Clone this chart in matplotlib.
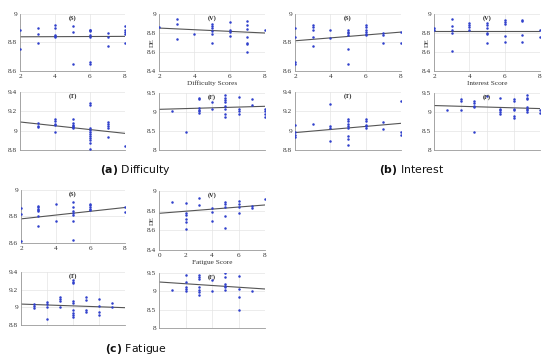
import matplotlib
matplotlib.use("Agg")
import matplotlib.pyplot as plt

# --- data: scores on x, DE values on y (grouped by score) ---
# (a) Difficulty
diff_s_x = [2, 3, 4, 5, 6, 7, 8]
diff_s_y = [[8.887, 8.755], [8.899, 8.859, 8.793], [8.925, 8.90, 8.854, 8.845, 8.84],
            [8.918, 8.873, 8.652], [8.89, 8.885, 8.878, 8.852, 8.84, 8.664, 8.652],
            [8.87, 8.838, 8.774], [8.918, 8.887, 8.873, 8.86, 8.793]]
diff_s_fit = [8.84, 8.843]

diff_v_x = [2, 3, 4, 5, 6, 7, 8]
diff_v_y = [[8.866], [8.944, 8.894, 8.742], [8.788], [8.89, 8.873, 8.852, 8.824, 8.788, 8.70],
            [8.912, 8.83, 8.813, 8.77], [8.93, 8.884, 8.84, 8.76, 8.696, 8.68, 8.60], [8.83]]
diff_v_fit = [8.852, 8.80]

diff_t_x = [3, 4, 5, 6, 7, 8]
diff_t_y = [[9.076, 9.052, 9.034], [9.12, 9.097, 9.072, 9.055, 8.986],
            [9.12, 9.083, 9.062, 9.052, 9.034, 9.024],
            [9.286, 9.262, 9.028, 9.01, 8.986, 8.966, 8.941, 8.924, 8.90, 8.876, 8.814],
            [9.093, 9.069, 9.045, 9.028, 8.938], [8.84]]
diff_t_fit = [9.09, 8.972]

diff_f_x = [1, 2, 3, 4, 5, 6, 7, 8]
diff_f_y = [[9.017], [8.48], [9.37, 9.33, 9.10, 9.06, 9.02, 8.98], [9.26, 9.09],
            [9.44, 9.37, 9.31, 9.27, 9.16, 9.09, 8.96, 8.87], [9.40, 9.09, 9.02, 8.96],
            [9.35, 9.19], [9.09, 9.02, 8.96, 8.87]]
diff_f_fit = [9.07, 9.15]

# (b) Interest
int_s_x = [2, 3, 4, 5, 6, 7, 8]
int_s_y = [[8.901, 8.84, 8.661, 8.652], [8.92, 8.906, 8.887, 8.84, 8.776], [8.887, 8.83],
           [8.887, 8.875, 8.864, 8.852, 8.755, 8.652], [8.922, 8.906, 8.887, 8.873, 8.859, 8.85],
           [8.87, 8.85, 8.793], [8.873, 8.798]]
int_s_fit = [8.812, 8.873]

int_v_x = [2, 3, 4, 5, 6, 7, 8]
int_v_y = [[8.854, 8.836], [8.95, 8.87, 8.836, 8.80, 8.61], [8.907, 8.886, 8.86, 8.836],
           [8.907, 8.886, 8.857, 8.80, 8.786, 8.693], [8.936, 8.914, 8.893, 8.771, 8.707],
           [8.936, 8.925, 8.782, 8.707], [8.836, 8.754]]
int_v_fit = [8.82, 8.82]

int_t_x = [2, 3, 4, 5, 6, 7, 8]
int_t_y = [[9.062, 8.986, 8.959, 8.934], [9.069], [9.276, 9.045, 9.028, 8.89],
           [9.124, 9.097, 9.069, 9.045, 9.028, 8.948, 8.914, 8.848],
           [9.124, 9.097, 9.062, 9.045, 9.028], [9.086, 9.021], [9.303, 8.986, 8.952]]
int_t_fit = [8.98, 9.076]

int_f_x = [1, 2, 3, 4, 5, 6, 7, 8]
int_f_y = [[9.04], [9.35, 9.30, 9.06], [9.28, 9.23, 9.17, 9.12, 8.48], [9.41],
           [9.36, 9.09, 9.04, 9.00, 8.96], [9.35, 9.28, 9.09, 9.04, 8.90, 8.84],
           [9.45, 9.36, 9.33, 9.13, 9.09, 9.04, 9.00], [9.06, 8.98]]
int_f_fit = [9.17, 9.09]

# (c) Fatigue
fat_s_x = [2, 3, 4, 5, 6, 8]
fat_s_y = [[8.862, 8.818, 8.612], [8.878, 8.868, 8.858, 8.848, 8.838, 8.80, 8.728],
           [8.898, 8.768], [8.908, 8.868, 8.845, 8.825, 8.812, 8.768, 8.625],
           [8.898, 8.888, 8.872, 8.86, 8.848], [8.868, 8.832]]
fat_s_fit = [8.782, 8.868]

fat_v_x = [1, 2, 3, 4, 5, 6, 7, 8]
fat_v_y = [[8.892], [8.875, 8.773, 8.756, 8.712, 8.688, 8.61], [8.932, 8.858],
           [8.83, 8.79, 8.70], [8.885, 8.868, 8.84, 8.746, 8.62], [8.90, 8.868, 8.837, 8.773],
           [8.844, 8.824], [8.915]]
fat_v_fit = [8.773, 8.858]

fat_t_x = [1, 2, 3, 4, 5, 6, 7]
fat_t_y = [[9.037, 9.015, 8.996], [9.06, 9.034, 9.007, 8.873], [9.12, 9.097, 9.067, 9.007],
           [9.307, 9.288, 9.27, 9.067, 9.045, 8.97, 8.94, 8.914, 8.888],
           [9.12, 9.082, 8.97, 8.948], [9.09, 9.015, 8.951, 8.914], [9.052, 9.007]]
fat_t_fit = [9.037, 8.996]

fat_f_x = [1, 2, 3, 4, 5, 6, 7]
fat_f_y = [[9.045], [9.455, 9.245, 9.11, 9.064, 9.018],
           [9.445, 9.382, 9.336, 9.11, 9.045, 8.973, 8.909], [9.31, 9.018],
           [9.49, 9.40, 9.20, 9.155, 9.11, 9.045], [9.41, 9.064, 8.855, 8.48], [9.018]]
fat_f_fit = [9.255, 9.064]

W, H = 550, 361
plt.rcParams['mathtext.fontset'] = 'custom'
plt.rcParams['mathtext.bf'] = 'DejaVu Sans:bold'
plt.rcParams['mathtext.rm'] = 'DejaVu Sans'
serif = 'Liberation Serif'

fig = plt.figure(figsize=(W / 100, H / 100), dpi=100)

y_s = ([8.6, 8.8, 9], ['8.6', '8.8', '9'])
y_v = ([8.4, 8.6, 8.8, 9], ['8.4', '8.6', '8.8', '9'])
y_t = ([8.8, 9, 9.2, 9.4], ['8.8', '9', '9.2', '9.4'])
y_f = ([8, 8.5, 9, 9.5], ['8', '8.5', '9', '9.5'])


def panel(box, xs, ys, fit, xlim, ylim, yt, title, show_x=True, xlabel=None, ylabel=None):
    l, t, r, b = box
    ax = fig.add_axes([l / W, 1 - b / H, (r - l) / W, (b - t) / H])
    for x, vals in zip(xs, ys):
        ax.plot([x] * len(vals), vals, 'o', ms=1.8, color='#3040cc', mec='none', zorder=3)
    ax.plot(xlim, fit, color='#555555', lw=0.8, zorder=2)
    ax.set_xlim(xlim)
    ax.set_ylim(ylim)
    xt = list(range(xlim[0], xlim[1] + 1, 2))
    ax.set_xticks(xt)
    ax.set_xticklabels([str(v) for v in xt] if show_x else [])
    ax.set_yticks(yt[0])
    ax.set_yticklabels(yt[1])
    ax.tick_params(length=0, pad=2, labelsize=5.2, labelcolor='#333333')
    for lab in ax.get_xticklabels() + ax.get_yticklabels():
        lab.set_fontfamily(serif)
    ax.grid(True, color='#e4e4e4', lw=0.5)
    ax.set_axisbelow(True)
    for s in ['top', 'right']:
        ax.spines[s].set_visible(False)
    for s in ['left', 'bottom']:
        ax.spines[s].set_color('#999999')
        ax.spines[s].set_linewidth(0.6)
    ax.text(0.5, 0.98, title, transform=ax.transAxes, ha='center', va='top',
            fontsize=4.5, fontweight='bold', family=serif, color='#222222')
    if xlabel:
        ax.set_xlabel(xlabel, fontsize=5.2, family=serif, labelpad=1.5, color='#333333')
    if ylabel:
        ax.set_ylabel(ylabel, fontsize=4.8, family=serif, color='#333333')
        ax.yaxis.set_label_coords(-0.035, 0.5)
    return ax


# (a) Difficulty
panel((20, 14, 125, 71), diff_s_x, diff_s_y, diff_s_fit, (2, 8), (8.6, 9), y_s, '(S)')
panel((159, 14, 265, 71), diff_v_x, diff_v_y, diff_v_fit, (2, 8), (8.4, 9), y_v, '(V)',
      xlabel='Difficulty Scores', ylabel='DE')
panel((20, 92, 125, 150), diff_t_x, diff_t_y, diff_t_fit, (2, 8), (8.8, 9.4), y_t, '(T)', show_x=False)
panel((159, 93, 265, 150), diff_f_x, diff_f_y, diff_f_fit, (0, 8), (8, 9.5), y_f, '(F)', show_x=False)

# (b) Interest
panel((295, 14, 401, 71), int_s_x, int_s_y, int_s_fit, (2, 8), (8.6, 9), y_s, '(S)')
panel((434, 14, 540, 71), int_v_x, int_v_y, int_v_fit, (2, 8), (8.4, 9), y_v, '(V)',
      xlabel='Interest Score', ylabel='DE')
panel((295, 92, 401, 150), int_t_x, int_t_y, int_t_fit, (2, 8), (8.8, 9.4), y_t, '(T)', show_x=False)
panel((434, 93, 540, 150), int_f_x, int_f_y, int_f_fit, (0, 8), (8, 9.5), y_f, '(F)', show_x=False)

# (c) Fatigue
panel((21, 190, 125, 243), fat_s_x, fat_s_y, fat_s_fit, (2, 8), (8.6, 9), y_s, '(S)')
panel((159, 191, 265, 250), fat_v_x, fat_v_y, fat_v_fit, (0, 8), (8.4, 9), y_v, '(V)',
      xlabel='Fatigue Score', ylabel='DE')
panel((21, 272, 125, 325), fat_t_x, fat_t_y, fat_t_fit, (0, 8), (8.8, 9.4), y_t, '(T)', show_x=False)
panel((159, 273, 265, 328), fat_f_x, fat_f_y, fat_f_fit, (0, 8), (8, 9.5), y_f, '(F)', show_x=False)

# sub-captions
captions = [(136, 170, '(a)', 'Difficulty'), (412, 170, '(b)', 'Interest'), (136, 349, '(c)', 'Fatigue')]
for cx, cy, lab, txt in captions:
    fig.text(cx / W, 1 - cy / H, r'$\mathbf{' + lab + r'}$ ' + txt, ha='center', va='center',
             fontsize=7.8, family='DejaVu Sans', color='#111111')

fig.savefig('out.png', dpi=100)
